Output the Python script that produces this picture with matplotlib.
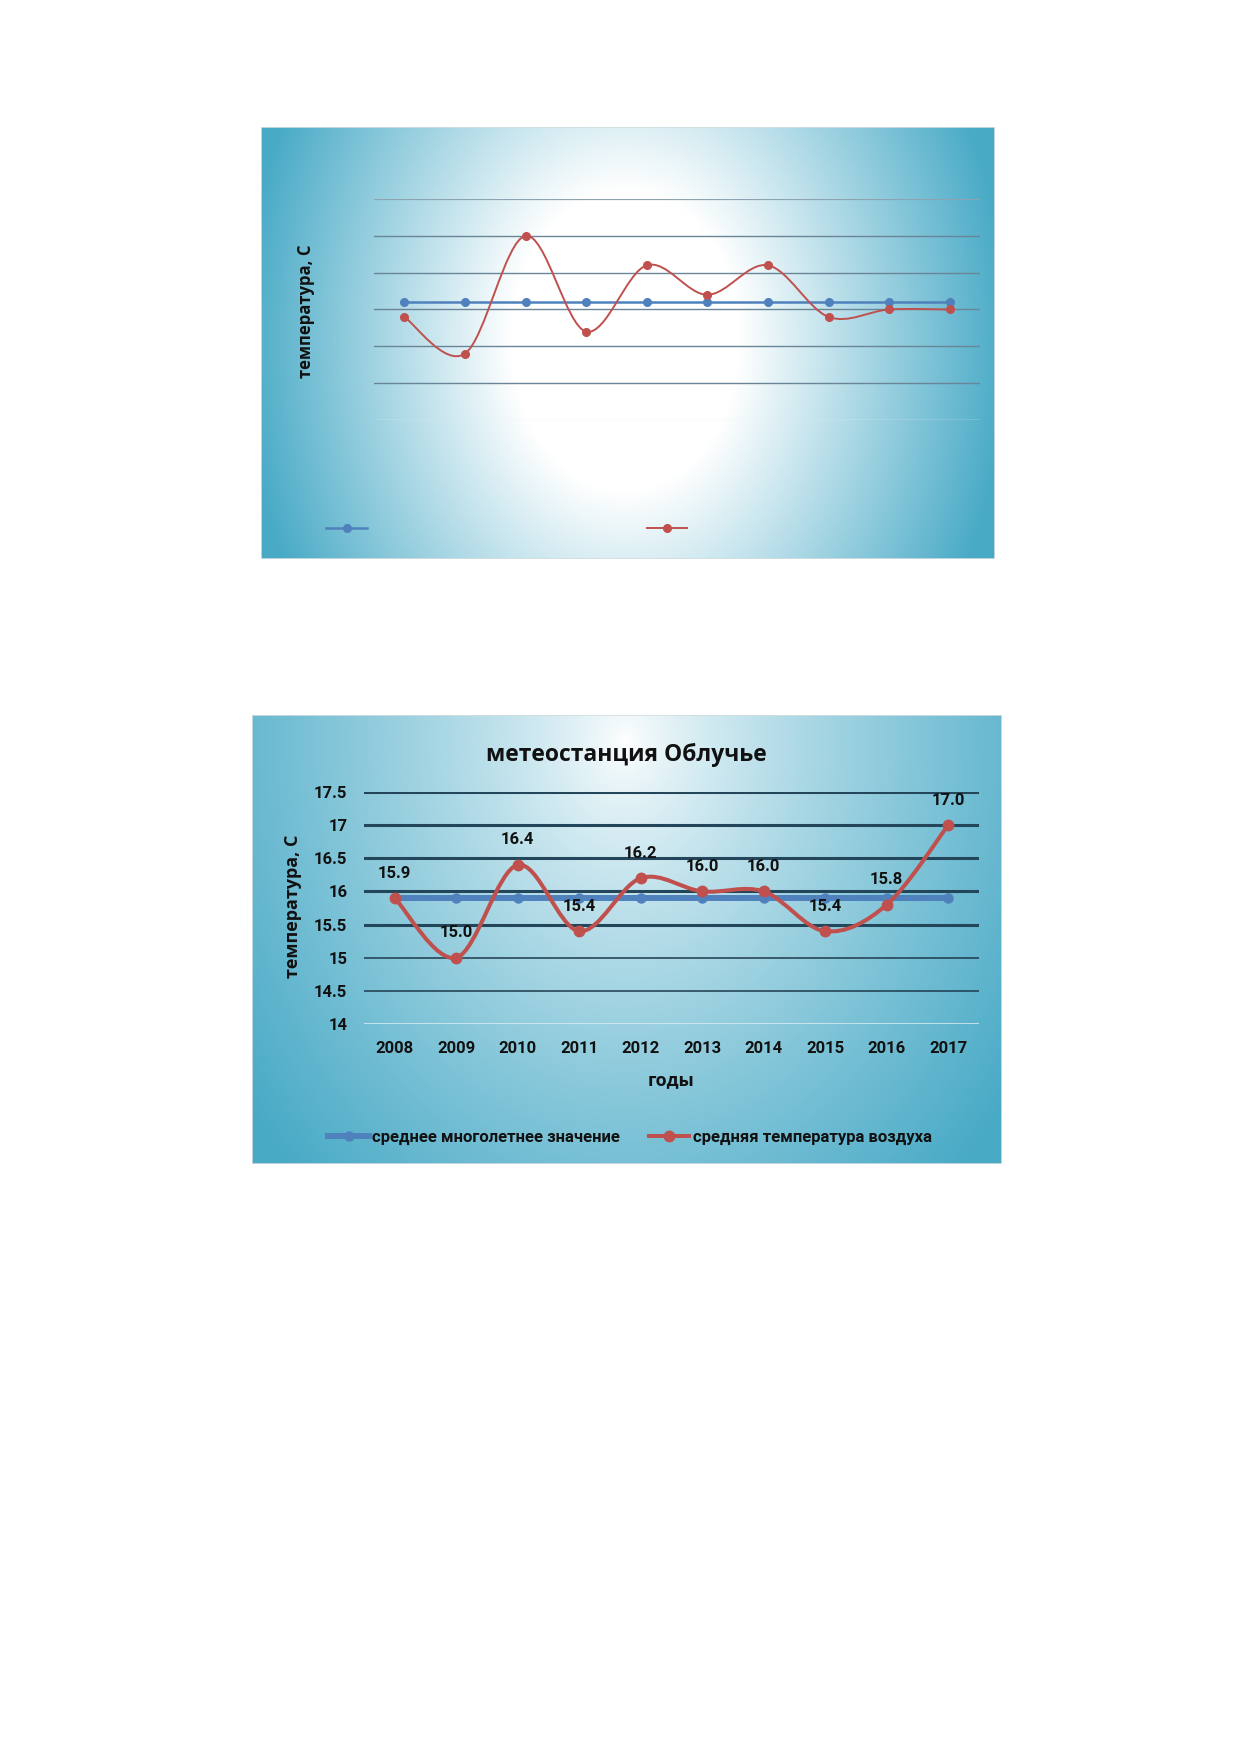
import numpy as np
import matplotlib
matplotlib.use("Agg")
import matplotlib.pyplot as plt
from matplotlib.path import Path
from matplotlib.patches import PathPatch, Rectangle
from matplotlib.lines import Line2D

W, H = 1239, 1752

years = ["2008", "2009", "2010", "2011", "2012",
         "2013", "2014", "2015", "2016", "2017"]

# top chart (its texts are not visible in the source)
top_mean = [15.1] * 10
top_temp = [14.9, 14.4, 16.0, 14.7, 15.6, 15.2, 15.6, 14.9, 15.0, 15.0]
top_ticks = [13.5, 14.0, 14.5, 15.0, 15.5, 16.0, 16.5]

# bottom chart: метеостанция Облучье
obl_mean = [15.9] * 10
obl_temp = [15.9, 15.0, 16.4, 15.4, 16.2, 16.0, 16.0, 15.4, 15.8, 17.0]
obl_ticks = [14.0, 14.5, 15.0, 15.5, 16.0, 16.5, 17.0, 17.5]
obl_tick_labels = ["14", "14.5", "15", "15.5", "16", "16.5", "17", "17.5"]

legend_labels = ["среднее многолетнее значение", "средняя температура воздуха"]

BLUE = "#4F81BD"
RED = "#C0504D"
TEAL = np.array([0.29, 0.67, 0.78])
TEXT = "#111111"


def box(x0, y0, x1, y1):
    return [x0 / W, 1 - y1 / H, (x1 - x0) / W, (y1 - y0) / H]


def fx(x):
    return x / W


def fy(y):
    return 1 - y / H


def gradient(w, h, cx, cy, rx, ry, core, gamma):
    yy, xx = np.mgrid[0:h, 0:w]
    d = np.sqrt(((xx - cx) / rx) ** 2 + ((yy - cy) / ry) ** 2)
    t = np.clip((d - core) / (1 - core), 0, 1) ** gamma
    img = (1 - t)[..., None] * np.ones(3) + t[..., None] * TEAL
    return img


def add_background(fig, x0, y0, x1, y1, **kw):
    ax = fig.add_axes(box(x0, y0, x1, y1))
    img = gradient(x1 - x0, y1 - y0, **kw)
    ax.imshow(img, extent=(0, 1, 0, 1), aspect="auto", origin="upper")
    ax.add_patch(Rectangle((0, 0), 1, 1, transform=ax.transAxes, fill=False,
                           edgecolor="#d5dde0", lw=1.2))
    ax.set_xlim(0, 1)
    ax.set_ylim(0, 1)
    ax.set_axis_off()
    return ax


def smooth_path(xs, ys):
    pts = np.column_stack([xs, ys]).astype(float)
    n = len(pts)
    verts = [pts[0]]
    codes = [Path.MOVETO]
    for i in range(n - 1):
        p0 = pts[max(i - 1, 0)]
        p1 = pts[i]
        p2 = pts[i + 1]
        p3 = pts[min(i + 2, n - 1)]
        verts += [p1 + (p2 - p0) / 6, p2 - (p3 - p1) / 6, p2]
        codes += [Path.CURVE4] * 3
    return Path(verts, codes)


def setup_axes(ax, ticks, ylim):
    ax.set_facecolor("none")
    for s in ax.spines.values():
        s.set_visible(False)
    ax.set_xlim(-0.5, len(years) - 0.5)
    ax.set_ylim(*ylim)
    ax.set_yticks(ticks)
    ax.set_xticks(range(len(years)))
    ax.tick_params(length=0)
    ax.grid(axis="y")
    ax.set_axisbelow(True)


def draw_series(ax, mean, temp, lw_mean, lw_temp, ms_mean, ms_temp):
    x = np.arange(len(years))
    ax.plot(x, mean, color=BLUE, lw=lw_mean, marker="o", ms=ms_mean,
            zorder=3)
    ax.add_patch(PathPatch(smooth_path(x, temp), fill=False, edgecolor=RED,
                           lw=lw_temp, zorder=4, capstyle="round"))
    ax.plot(x, temp, ls="none", marker="o", ms=ms_temp, color=RED, zorder=5)


def add_legend(fig, cx, cy, lw_mean, lw_temp, ms_mean, ms_temp, visible):
    handles = [
        Line2D([], [], color=BLUE, lw=lw_mean, marker="o", ms=ms_mean),
        Line2D([], [], color=RED, lw=lw_temp, marker="o", ms=ms_temp),
    ]
    leg = fig.legend(handles, legend_labels, loc="center",
                     bbox_to_anchor=(fx(cx), fy(cy)), ncol=2, frameon=False,
                     handlelength=2.45, handletextpad=0.2, columnspacing=1.7,
                     prop={"family": "Roboto", "weight": "bold", "size": 12})
    for t in leg.get_texts():
        t.set_color(TEXT)
        if not visible:
            t.set_alpha(0)
    return leg


fig = plt.figure(figsize=(W / 100, H / 100), dpi=100)
fig.patch.set_facecolor("white")

# ---------------- top chart ----------------
add_background(fig, 261, 127, 995, 559, cx=364, cy=213, rx=380, ry=500,
               core=0.3, gamma=1.0)
ax1 = fig.add_axes(box(374, 199, 980, 420))
setup_axes(ax1, top_ticks, (13.5, 16.5))
ax1.tick_params(labelleft=False, labelbottom=False)
for i, gl in enumerate(ax1.get_ygridlines()):
    if i == 0:
        gl.set_color("#e4eef1")
        gl.set_linewidth(1.0)
    elif i == len(top_ticks) - 1:
        gl.set_color("#8ea3b1")
        gl.set_linewidth(1.6)
    else:
        gl.set_color("#6a8597")
        gl.set_linewidth(1.0)
draw_series(ax1, top_mean, top_temp, 1.8, 1.4, 5.5, 5.5)
fig.text(fx(306), fy(311), "температура, С", rotation=90, ha="center",
         va="center", family="Open Sans", weight="bold", size=12, color=TEXT)
add_legend(fig, 628, 529, 1.8, 1.4, 5.5, 5.5, visible=False)

# ---------------- bottom chart ----------------
add_background(fig, 252, 715, 1002, 1164, cx=373, cy=25, rx=470, ry=600,
               core=0.0, gamma=0.8)
ax2 = fig.add_axes(box(364, 792, 979, 1024))
setup_axes(ax2, obl_ticks, (14.0, 17.5))
ax2.set_yticklabels(obl_tick_labels)
ax2.set_xticklabels(years)
ax2.tick_params(axis="y", pad=12)
ax2.tick_params(axis="x", pad=12)
for lab in ax2.get_xticklabels() + ax2.get_yticklabels():
    lab.set_fontfamily("Roboto")
    lab.set_fontweight("bold")
    lab.set_fontsize(12)
    lab.set_color(TEXT)
for i, gl in enumerate(ax2.get_ygridlines()):
    if i == 0:
        gl.set_color("#dcedf2")
        gl.set_linewidth(1.1)
    elif i < 3:
        gl.set_color("#1d3a4c")
        gl.set_linewidth(1.1)
    else:
        gl.set_color("#23465a")
        gl.set_linewidth(2.2)
draw_series(ax2, obl_mean, obl_temp, 4.3, 2.9, 6.5, 7.5)
for i, v in enumerate(obl_temp):
    ax2.annotate(f"{v:.1f}", (i, v), xytext=(0, 18), textcoords="offset points",
                 ha="center", va="center", family="Roboto", weight="bold",
                 size=12, color=TEXT, zorder=6)

fig.text(fx(626), fy(755), "метеостанция Облучье", ha="center", va="center",
         family="Open Sans", weight="bold", size=16.5, color=TEXT)
fig.text(fx(293), fy(906), "температура, С", rotation=90, ha="center",
         va="center", family="Open Sans", weight="bold", size=13, color=TEXT)
fig.text(fx(671), fy(1080), "годы", ha="center", va="center",
         family="Open Sans", weight="bold", size=13, color=TEXT)
add_legend(fig, 630, 1137, 4.3, 2.9, 6.5, 7.5, visible=True)

fig.savefig("out.png", dpi=100, facecolor="white")
